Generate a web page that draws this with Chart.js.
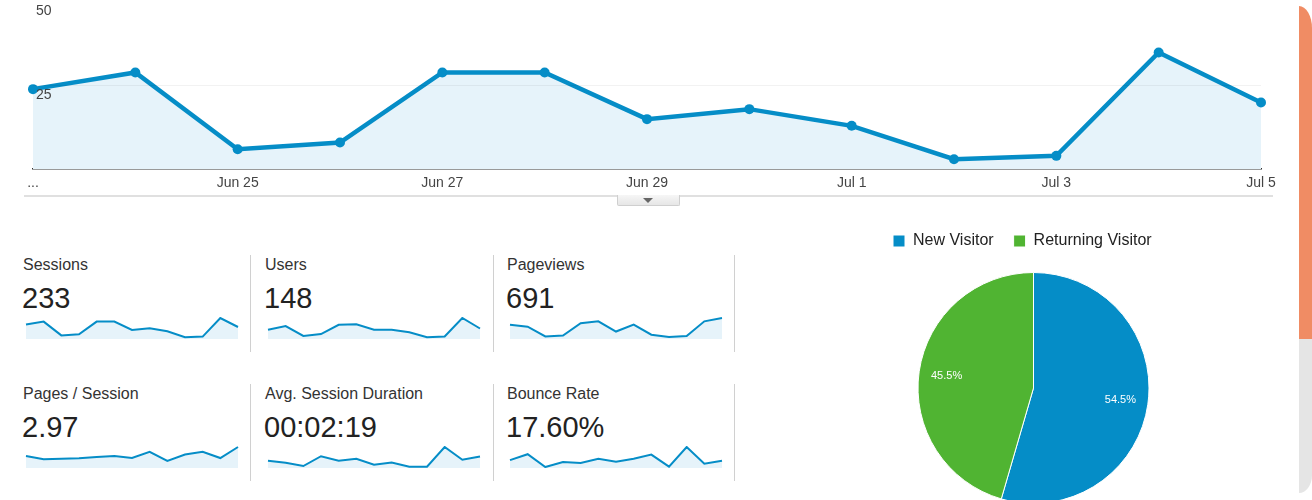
<!DOCTYPE html>
<html><head><meta charset="utf-8">
<script src="https://cdn.jsdelivr.net/npm/chart.js@4.4.0/dist/chart.umd.min.js"></script>
<style>
html,body{margin:0;padding:0;background:#fff;width:1312px;height:500px;overflow:hidden;font-family:"Liberation Sans",Arial,sans-serif;}
.abs{position:absolute;}
.title{font-size:16px;line-height:18px;color:#333;white-space:nowrap;}
.value{font-size:29px;line-height:32px;color:#222;white-space:nowrap;}
.sep{width:1px;background:#d0d0d0;}
</style></head><body>
<canvas id="main" class="abs" style="left:0;top:-9px" width="1290" height="215"></canvas>
<div class="abs" style="left:24px;top:195px;width:1249px;height:2px;background:#e0e0e0"></div>
<div class="abs" style="left:617px;top:195px;width:61px;height:10px;background:linear-gradient(#f6f6f6,#e6e6e6);border:1px solid #cfcfcf;border-top:none;border-radius:0 0 2px 2px"></div>
<div class="abs" style="left:643px;top:198px;width:0;height:0;border-left:5px solid transparent;border-right:5px solid transparent;border-top:5px solid #666"></div>
<div id="tiles"></div>
<canvas id="pie" class="abs" style="left:854px;top:213px" width="340" height="304"></canvas>
<div class="abs" style="left:1299px;top:6px;width:13px;height:333px;background:#f08c64;border-top-right-radius:13px 22px"></div>
<div class="abs" style="left:1299px;top:339px;width:13px;height:154px;background:#e5e5e5;border-bottom-right-radius:13px 18px"></div>
<script>
// ---- data ----
const dates = ["Jun 23","Jun 24","Jun 25","Jun 26","Jun 27","Jun 28","Jun 29","Jun 30","Jul 1","Jul 2","Jul 3","Jul 4","Jul 5"];
const tickLabels = ["...","","Jun 25","","Jun 27","","Jun 29","","Jul 1","","Jul 3","","Jul 5"];
const yStep = 25;
const yMax = 50;
const sessions = [24, 29, 6, 8, 29, 29, 15, 18, 13, 3, 4, 35, 20];
const users = [15, 21, 5, 8, 23, 24, 15, 15, 11, 3, 4, 34, 17];
const pageviews = [72, 63, 13, 18, 80, 90, 38, 73, 22, 10, 15, 90, 107];
const pagesPerSession = [3.05, 2.22, 2.38, 2.46, 2.79, 3.04, 2.54, 4.11, 1.81, 3.45, 4.11, 2.54, 5.35];
const avgDuration = [114, 83, 31, 187, 114, 146, 52, 88, 21, 21, 333, 130, 182];
const bounceRate = [18.8, 32.8, 2.3, 14.1, 11.7, 21.9, 14.8, 21.9, 32.0, 3.1, 50.0, 10.2, 17.2];
const metricTitles = ["Sessions","Users","Pageviews","Pages / Session","Avg. Session Duration","Bounce Rate"];
const metricValues = ["233","148","691","2.97","00:02:19","17.60%"];
const metricSeries = [sessions, users, pageviews, pagesPerSession, avgDuration, bounceRate];
const visitorLabels = ["New Visitor","Returning Visitor"];
const visitorShare = [54.5, 45.5];

const BLUE = '#058dc7', GREEN = '#50b432', FILL = '#e6f3fa';
const FONT = "'Liberation Sans', Arial, sans-serif";
Chart.defaults.font.family = FONT;
Chart.defaults.animation = false;

// ---- main chart ----
new Chart(document.getElementById('main'), {
  type: 'line',
  data: { labels: dates, datasets: [{ data: sessions, borderColor: BLUE, borderWidth: 4.5, backgroundColor: FILL,
    fill: 'origin', pointRadius: 5, pointBackgroundColor: BLUE, pointBorderWidth: 0, tension: 0 }] },
  options: {
    responsive: false, clip: false,
    layout: { padding: { left: 27, right: 29, top: 1, bottom: 8 } },
    plugins: { legend: { display: false }, tooltip: { enabled: false } },
    scales: {
      x: { offset: false, grid: { display: false, drawTicks: false },
        border: { color: '#333', width: 1.5 },
        ticks: { autoSkip: false, maxRotation: 0, padding: 6, color: '#444', font: { size: 14 },
          callback: (v, i) => tickLabels[i] } },
      y: { min: 0, max: yMax,
        grid: { z: 1, drawTicks: false, color: c => (c.tick && c.tick.value === yStep) ? 'rgba(0,0,0,0.05)' : 'rgba(0,0,0,0)' },
        border: { display: false },
        ticks: { z: 1, stepSize: yStep, autoSkip: false, mirror: true, padding: 3, labelOffset: 9, color: '#444', font: { size: 14 },
          callback: v => v === 0 ? '' : String(v) } }
    }
  }
});

// ---- metric tiles ----
const colX = [23, 265, 507];
const rowY = [256, 385];
const sepX = [250, 493, 734];
const tiles = document.getElementById('tiles');
metricTitles.forEach((t, i) => {
  const c = i % 3, r = Math.floor(i / 3);
  const x = colX[c], y = rowY[r];
  tiles.insertAdjacentHTML('beforeend',
    `<div class="abs title" style="left:${x}px;top:${y}px">${t}</div>` +
    `<div class="abs value" style="left:${x - 1}px;top:${y + 26}px">${metricValues[i]}</div>` +
    `<canvas class="abs" id="sp${i}" style="left:${x + 1}px;top:${y + 59}px" width="216" height="26"></canvas>`);
  const s = metricSeries[i];
  new Chart(document.getElementById('sp' + i), {
    type: 'line',
    data: { labels: dates, datasets: [{ data: s, borderColor: BLUE, borderWidth: 2, backgroundColor: FILL,
      fill: 'origin', pointRadius: 0, tension: 0 }] },
    options: { responsive: false, layout: { padding: { left: 2, right: 2, top: 3, bottom: 2 } },
      plugins: { legend: { display: false }, tooltip: { enabled: false } },
      scales: { x: { display: false, offset: false }, y: { display: false, min: 0, bounds: 'data' } } }
  });
});
[0, 1].forEach(r => sepX.forEach(x => {
  tiles.insertAdjacentHTML('beforeend', `<div class="abs sep" style="left:${x}px;top:${rowY[r] - 1}px;height:97px"></div>`);
}));

// ---- pie ----
const pieLabels = {
  id: 'pieLabels',
  afterDatasetsDraw(chart) {
    const ctx = chart.ctx, meta = chart.getDatasetMeta(0);
    const total = chart.data.datasets[0].data.reduce((a, b) => a + b, 0);
    ctx.save();
    ctx.fillStyle = '#fff'; ctx.font = `11px ${FONT}`;
    ctx.textAlign = 'center'; ctx.textBaseline = 'middle';
    meta.data.forEach((arc, i) => {
      const p = arc.getProps(['x', 'y', 'startAngle', 'endAngle', 'outerRadius'], true);
      const a = (p.startAngle + p.endAngle) / 2, rr = p.outerRadius * 0.76;
      const v = chart.data.datasets[0].data[i] / total * 100;
      ctx.fillText(v.toFixed(1) + '%', p.x + Math.cos(a) * rr, p.y + Math.sin(a) * rr);
    });
    ctx.restore();
  }
};
new Chart(document.getElementById('pie'), {
  type: 'pie',
  data: { labels: visitorLabels, datasets: [{ data: visitorShare, backgroundColor: [BLUE, GREEN],
    borderColor: '#fff', borderWidth: 1, radius: 115.5 }] },
  options: { responsive: false, layout: { padding: { left: 19, right: 0, top: 0, bottom: 0 } },
    plugins: { tooltip: { enabled: false },
      legend: { position: 'top', align: 'start',
        labels: { boxWidth: 12, boxHeight: 12, padding: 20, color: '#222', font: { size: 16 } } } } },
  plugins: [pieLabels]
});
</script>
</body></html>
